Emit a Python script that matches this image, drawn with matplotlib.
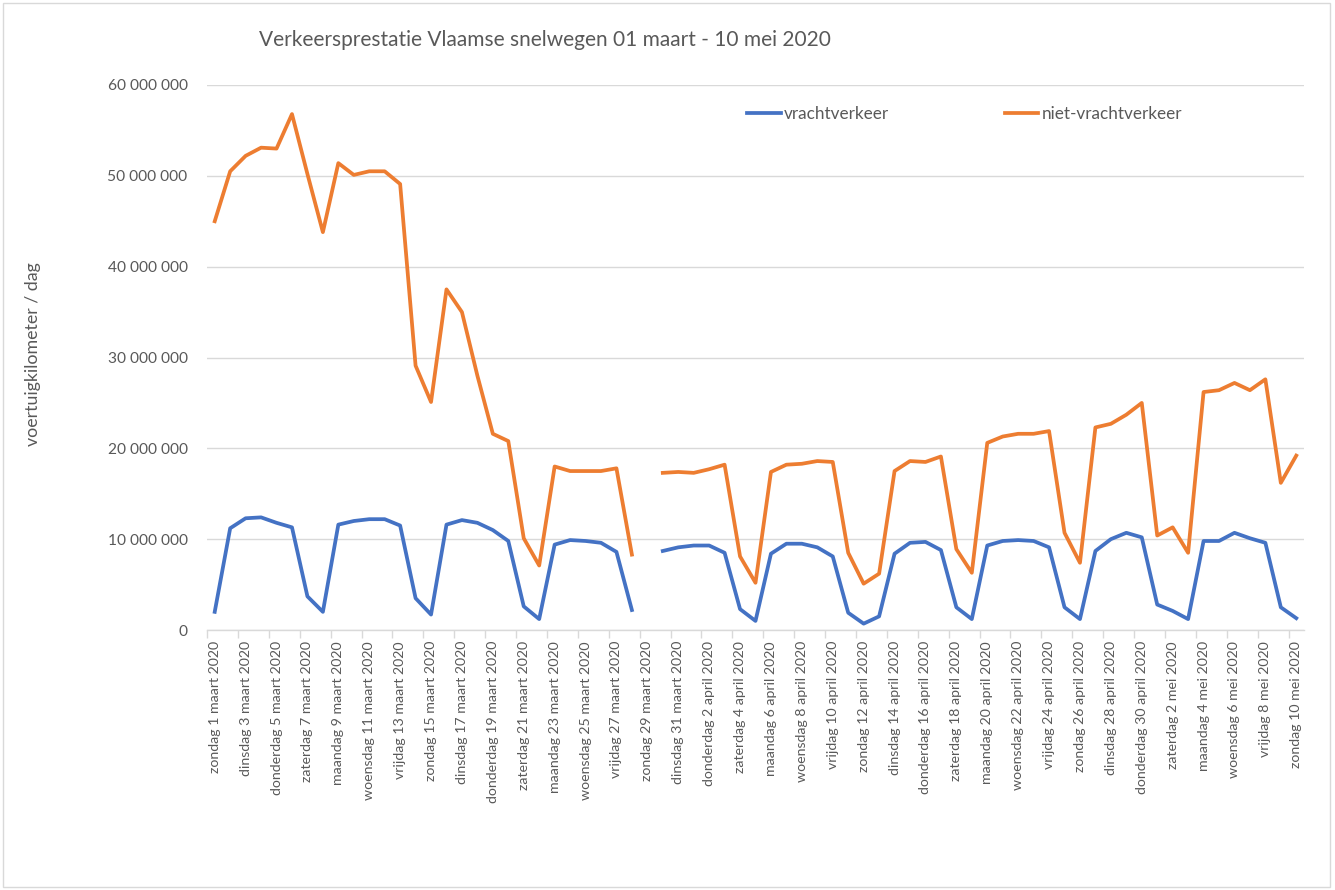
import matplotlib
matplotlib.use("Agg")
import matplotlib.pyplot as plt
import numpy as np
import datetime as dt
from matplotlib.patches import Rectangle

plt.rcParams['font.family'] = ['Lato', 'DejaVu Sans']

# --- data (values in vehicle-km per day) ---
start = dt.date(2020, 3, 1)
days = [start + dt.timedelta(days=i) for i in range(71)]
dagnamen = ['maandag', 'dinsdag', 'woensdag', 'donderdag', 'vrijdag', 'zaterdag', 'zondag']
maanden = {3: 'maart', 4: 'april', 5: 'mei'}
categories = [f"{dagnamen[d.weekday()]} {d.day} {maanden[d.month]} {d.year}" for d in days]

vracht = [2.0, 11.2, 12.3, 12.4, 11.8, 11.3, 3.7, 2.0, 11.6, 12.0, 12.2, 12.2, 11.5, 3.5, 1.7,
          11.6, 12.1, 11.8, 11.0, 9.8, 2.6, 1.2, 9.4, 9.9, 9.8, 9.6, 8.6, 2.2, np.nan,
          8.7, 9.1, 9.3, 9.3, 8.5, 2.3, 1.0, 8.4, 9.5, 9.5, 9.1, 8.1, 1.9, 0.7, 1.5,
          8.4, 9.6, 9.7, 8.8, 2.5, 1.2, 9.3, 9.8, 9.9, 9.8, 9.1, 2.5, 1.2,
          8.7, 10.0, 10.7, 10.2, 2.8, 2.1, 1.2, 9.8, 9.8, 10.7, 10.1, 9.6, 2.5, 1.3]
niet_vracht = [45.0, 50.5, 52.2, 53.1, 53.0, 56.8, 50.2, 43.8, 51.4, 50.1, 50.5, 50.5, 49.1, 29.1, 25.1,
               37.5, 35.0, 28.0, 21.6, 20.8, 10.1, 7.1, 18.0, 17.5, 17.5, 17.5, 17.8, 8.3, np.nan,
               17.3, 17.4, 17.3, 17.7, 18.2, 8.1, 5.2, 17.4, 18.2, 18.3, 18.6, 18.5, 8.5, 5.1, 6.2,
               17.5, 18.6, 18.5, 19.1, 8.9, 6.3, 20.6, 21.3, 21.6, 21.6, 21.9, 10.7, 7.4,
               22.3, 22.7, 23.7, 25.0, 10.4, 11.3, 8.5, 26.2, 26.4, 27.2, 26.4, 27.6, 16.2, 19.2]
vracht = np.array(vracht) * 1e6
niet_vracht = np.array(niet_vracht) * 1e6

title = "Verkeersprestatie Vlaamse snelwegen 01 maart - 10 mei 2020"
ylabel = "voertuigkilometer / dag"
yticks = [0, 10e6, 20e6, 30e6, 40e6, 50e6, 60e6]

# --- figure ---
W, H = 1335, 890
fig = plt.figure(figsize=(W / 100, H / 100), dpi=100)
ax = fig.add_axes([207 / W, 1 - 630 / H, (1304 - 207) / W, (630 - 85) / H])

x = np.arange(len(categories))
blue = '#4472C4'
orange = '#ED7D31'
ax.plot(x, vracht, color=blue, lw=2.7, solid_joinstyle='round', label='vrachtverkeer')
ax.plot(x, niet_vracht, color=orange, lw=2.7, solid_joinstyle='round', label='niet-vrachtverkeer')

ax.set_xlim(-0.5, len(categories) - 0.5)
ax.set_ylim(0, 60e6)
ax.set_yticks(yticks)
ax.set_yticklabels([f"{int(v):,}".replace(',', ' ') for v in yticks])
ax.grid(axis='y', color='#D9D9D9', lw=1)
ax.set_axisbelow(True)
for s in ['top', 'right', 'left']:
    ax.spines[s].set_visible(False)
ax.spines['bottom'].set_color('#D9D9D9')
ax.spines['bottom'].set_linewidth(1)

ax.set_xticks(np.arange(-0.5, len(categories) - 1, 2))
ax.set_xticklabels([])
ax.set_xticks(x[::2], minor=True)
ax.set_xticklabels(categories[::2], minor=True, rotation=90, fontsize=10.2, color='#595959')
ax.tick_params(axis='x', which='major', length=6, color='#D9D9D9', width=1)
ax.tick_params(axis='x', which='minor', length=0, pad=8)
ax.tick_params(axis='y', length=0, labelsize=11.2, labelcolor='#595959', pad=14)

fig.text(33 / W, 1 - 354 / H, ylabel, rotation=90, ha='center', va='center', fontsize=12.8, color='#595959')

fig.text(545 / W, 1 - 40 / H, title, ha='center', va='center', fontsize=15, color='#595959')

leg = ax.legend(loc='upper left', bbox_to_anchor=(744 / W, 1 - 103 / H), bbox_transform=fig.transFigure,
                ncol=2, frameon=False, fontsize=12.3, handlelength=1.95, handletextpad=0.18,
                columnspacing=6.8, labelcolor='#595959', borderaxespad=0, borderpad=0.2)

fig.patches.append(Rectangle((3 / W, 3 / H), (1330 - 3) / W, (887 - 3) / H, transform=fig.transFigure,
                             fill=False, edgecolor='#D9D9D9', lw=1))

fig.savefig('out.png', dpi=100, facecolor='white')
